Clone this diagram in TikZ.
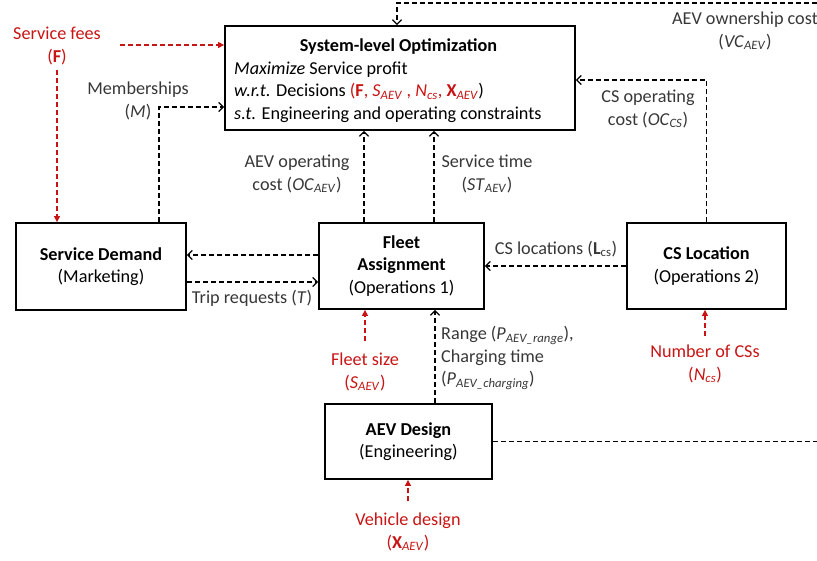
\documentclass[tikz,border=0pt]{standalone}
\usepackage{fontspec}
\setmainfont{Carlito}
\usetikzlibrary{arrows.meta,calc}
\definecolor{myred}{RGB}{200,20,20}
\definecolor{lblgray}{RGB}{55,55,55}
\newcommand\sbs[1]{\textsubscript{\textit{#1}}}
\begin{document}
\begin{tikzpicture}[x=1pt,y=-1pt,
  every node/.style={font=\fontsize{18.2}{22.5}\selectfont},
  box/.style={draw=black,line width=1.8pt,inner sep=0pt,align=center},
  lbl/.style={inner sep=0pt,align=center,text=lblgray},
  rlbl/.style={inner sep=0pt,align=center,text=myred},
  blkline/.style={draw=black,line width=1.3pt,dash pattern=on 5pt off 3pt},
  blk/.style={blkline,-{Straight Barb[length=4.5pt,width=9pt,line width=1.3pt]}},
  redarr/.style={draw=myred,line width=1.3pt,dash pattern=on 5pt off 3pt,-{Triangle[length=6pt,width=6pt]}},
]
\useasboundingbox (0,0) rectangle (817,560);

% boxes
\node[box,minimum width=350pt,minimum height=104pt] (sys) at (400,78) {};
\node[inner sep=0pt] (systitle) at (398.5,47) {\textbf{System-level Optimization}};
\node[inner sep=0pt,anchor=west,align=left] (sysbody) at (234,92) {\textit{Maximize} Service profit\\
\textit{w.r.t.} Decisions {\color{myred}(\textbf{F}, \textit{S}\sbs{AEV} , \textit{N}\sbs{cs}, \textbf{X}\sbs{AEV}})\\
\textit{s.t.} Engineering and operating constraints};

\node[box,minimum width=170pt,minimum height=87pt] (sd) at (101,266.5) {\textbf{Service Demand}\\(Marketing)};
\node[box,minimum width=165pt,minimum height=86pt] (fa) at (401.5,266) {\textbf{Fleet}\\\textbf{Assignment}\\(Operations 1)};
\node[box,minimum width=159pt,minimum height=86pt] (cs) at (706.5,266) {\textbf{CS Location}\\(Operations 2)};
\node[box,minimum width=167pt,minimum height=75pt] (aev) at (408.5,441.5) {\textbf{AEV Design}\\(Engineering)};

% labels
\node[rlbl] (fees) at (57,46) {Service fees\\(\textbf{F})};
\node[lbl] (memb) at (138,101) {Memberships\\(\textit{M})};
\node[lbl] (aevop) at (297,174) {AEV operating\\cost (\textit{OC}\sbs{AEV})};
\node[lbl] (stime) at (487,174) {Service time\\(\textit{ST}\sbs{AEV})};
\node[lbl] (csop) at (648,109) {CS operating\\cost (\textit{OC}\sbs{CS})};
\node[lbl] (own) at (745,31) {AEV ownership cost\\(\textit{VC}\sbs{AEV})};
\node[lbl] (trip) at (252,298) {Trip requests (\textit{T})};
\node[lbl] (csloc) at (556,249) {CS locations (\textbf{L}\textsubscript{cs})};
\node[rlbl] (fleet) at (365,372) {Fleet size\\(\textit{S}\sbs{AEV})};
\node[lbl,anchor=west,align=left] (range) at (441,358) {Range (\textit{P}\sbs{AEV\_range}),\\Charging time\\(\textit{P}\sbs{AEV\_charging})};
\node[rlbl] (ncs) at (705,364) {Number of CSs\\(\textit{N}\sbs{cs})};
\node[rlbl] (vdes) at (408,532) {Vehicle design\\(\textbf{X}\sbs{AEV})};

% connectors
\coordinate (topR) at (817,3);
\draw[blk] (topR) -| ([xshift=-3pt]sys.north);
\coordinate (feesA) at (120,45);
\draw[redarr] (feesA) -- (feesA -| sys.west);
\draw[redarr] ([yshift=-5.5pt]fees.south) -- (fees.south |- sd.north);
\draw[blk] ([xshift=58pt]sd.north) |- ([yshift=-29pt]sys.west);
\draw[blk] ([yshift=11pt]fa.west) -- ([yshift=11pt]fa.west -| sd.east);
\draw[blk] ([yshift=-15.5pt]sd.east) -- ([yshift=-15.5pt]sd.east -| fa.west);
\draw[blk] (cs.west) -- (fa.east);
\draw[blk] ([xshift=-37.5pt]fa.north) -- ([xshift=-37.5pt]fa.north |- sys.south);
\draw[blk] ([xshift=32.5pt]fa.north) -- ([xshift=32.5pt]fa.north |- sys.south);
\draw[blk] (cs.north) |- ([yshift=-2pt]sys.east);
\draw[blk] ([xshift=26.5pt]aev.north) -- ([xshift=26.5pt]aev.north |- fa.south);
\draw[redarr] ([yshift=11.5pt]fleet.north) -- (fleet.north |- fa.south);
\draw[redarr] ([yshift=8.5pt]ncs.north) -- (ncs.north |- cs.south);
\draw[redarr] ([yshift=11.5pt]vdes.north) -- (vdes.north |- aev.south);
\coordinate (aevR) at (817,441.5);
\draw[blkline] (aev.east) -- (aevR);
\end{tikzpicture}
\end{document}
